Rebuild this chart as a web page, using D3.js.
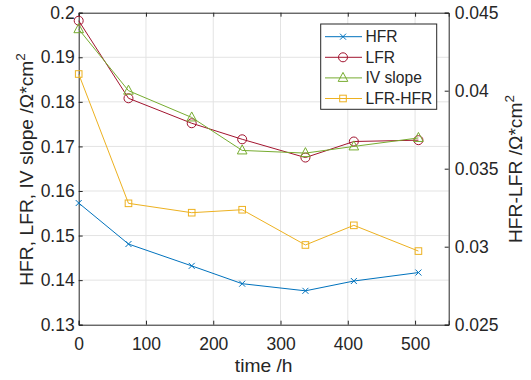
<!DOCTYPE html>
<html>
<head>
<meta charset="utf-8">
<script src="https://cdn.jsdelivr.net/npm/d3@7"></script>
<style>
  body { margin: 0; background: #fff; }
  svg text { font-family: "Liberation Sans", Arial, sans-serif; fill: #262626; }
</style>
</head>
<body>
<div id="chart"></div>
<script>
// time points (h)
const times = [0, 74, 168, 243, 337, 409, 505];
const hfr = [0.1573, 0.1481, 0.1432, 0.1392, 0.1376, 0.1398, 0.1417];
const lfr = [0.1982, 0.1808, 0.1752, 0.1716, 0.1675, 0.1711, 0.1714];
const ivSlope = [0.1963, 0.1825, 0.1765, 0.1691, 0.1685, 0.1700, 0.1719];
const lfrMinusHfr = [0.04107, 0.03278, 0.03218, 0.03237, 0.03011, 0.03137, 0.02972];

const xTicks = [0, 100, 200, 300, 400, 500];
const yLeftTicks = [0.13, 0.14, 0.15, 0.16, 0.17, 0.18, 0.19, 0.2];
const yRightTicks = [0.025, 0.03, 0.035, 0.04, 0.045];

const width = 531, height = 380;
const m = { left: 78.7, right: 531 - 448.7, top: 12.7, bottom: 380 - 324.7 };

const svg = d3.select("#chart").append("svg")
  .attr("width", width).attr("height", height);

const x = d3.scaleLinear().domain([0, 550]).range([m.left, width - m.right]);
const yL = d3.scaleLinear().domain([0.13, 0.2]).range([height - m.bottom, m.top]);
const yR = d3.scaleLinear().domain([0.025, 0.045]).range([height - m.bottom, m.top]);

const grid = svg.append("g");
grid.selectAll(".gx").data(xTicks.slice(1)).enter().append("line")
  .attr("x1", d => x(d)).attr("x2", d => x(d))
  .attr("y1", m.top).attr("y2", height - m.bottom)
  .attr("stroke", "#e3e3e3").attr("stroke-width", 1);
grid.selectAll(".gy").data(yLeftTicks.slice(1, -1)).enter().append("line")
  .attr("x1", m.left).attr("x2", width - m.right)
  .attr("y1", d => yL(d)).attr("y2", d => yL(d))
  .attr("stroke", "#e3e3e3").attr("stroke-width", 1);

// axes
const axColor = "#262626";
const tickFont = 17.5;
const labelFont = tickFont * 1.1;
const xAxis = svg.append("g").attr("transform", `translate(0,${height - m.bottom})`)
  .call(d3.axisBottom(x).tickValues(xTicks).tickSize(-4).tickPadding(13).tickFormat(d3.format("d")));
const xTop = svg.append("g").attr("transform", `translate(0,${m.top})`)
  .call(d3.axisTop(x).tickValues(xTicks).tickSize(-4).tickFormat(""));
const yAxisL = svg.append("g").attr("transform", `translate(${m.left},0)`)
  .call(d3.axisLeft(yL).tickValues(yLeftTicks).tickSize(-4).tickPadding(4).tickFormat(d => String(+d.toFixed(2))));
const yAxisR = svg.append("g").attr("transform", `translate(${width - m.right},0)`)
  .call(d3.axisRight(yR).tickValues(yRightTicks).tickSize(-4).tickPadding(6).tickFormat(d => String(+d.toFixed(3))));

[xAxis, xTop, yAxisL, yAxisR].forEach(g => {
  g.select(".domain").attr("stroke", axColor).attr("stroke-width", 1);
  g.selectAll(".tick line").attr("stroke", axColor);
  g.selectAll(".tick text").attr("font-size", tickFont).attr("fill", axColor)
    .style("font-family", "'Liberation Sans', Arial, sans-serif");
});

// series
const series = [
  { name: "HFR", values: hfr, scale: yL, color: "#0072BD", marker: "x" },
  { name: "LFR", values: lfr, scale: yL, color: "#A2142F", marker: "o" },
  { name: "IV slope", values: ivSlope, scale: yL, color: "#77AC30", marker: "^" },
  { name: "LFR-HFR", values: lfrMinusHfr, scale: yR, color: "#EDB120", marker: "s" }
];

function drawMarker(g, type, cx, cy, color) {
  if (type === "x") {
    g.append("path").attr("d", `M${cx-3},${cy-3}L${cx+3},${cy+3}M${cx-3},${cy+3}L${cx+3},${cy-3}`)
      .attr("stroke", color).attr("fill", "none").attr("stroke-width", 1);
  } else if (type === "o") {
    g.append("circle").attr("cx", cx).attr("cy", cy).attr("r", 4.5)
      .attr("stroke", color).attr("fill", "none").attr("stroke-width", 1);
  } else if (type === "^") {
    g.append("path").attr("d", `M${cx},${cy-5.5}L${cx+4.8},${cy+3.5}L${cx-4.8},${cy+3.5}Z`)
      .attr("stroke", color).attr("fill", "none").attr("stroke-width", 1);
  } else {
    g.append("rect").attr("x", cx - 3.3).attr("y", cy - 3.3).attr("width", 6.6).attr("height", 6.6)
      .attr("stroke", color).attr("fill", "none").attr("stroke-width", 1);
  }
}

series.forEach(s => {
  const line = d3.line().x((d, i) => x(times[i])).y(d => s.scale(d));
  const g = svg.append("g");
  g.append("path").datum(s.values).attr("d", line)
    .attr("fill", "none").attr("stroke", s.color).attr("stroke-width", 1);
  s.values.forEach((v, i) => drawMarker(g, s.marker, x(times[i]), s.scale(v), s.color));
});

// legend
const lg = svg.append("g");
lg.append("rect").attr("x", 320.7).attr("y", 24).attr("width", 116).attr("height", 85.3)
  .attr("fill", "#fff").attr("stroke", axColor).attr("stroke-width", 1);
series.forEach((s, i) => {
  const ly = 36.7 + i * 20.6;
  lg.append("line").attr("x1", 325).attr("x2", 362).attr("y1", ly).attr("y2", ly)
    .attr("stroke", s.color).attr("stroke-width", 1);
  drawMarker(lg, s.marker, 343, ly, s.color);
  lg.append("text").attr("x", 365.5).attr("y", ly + 5.5).attr("font-size", 15.6).text(s.name);
});

// axis labels
svg.append("text").attr("x", (m.left + width - m.right) / 2).attr("y", 372)
  .attr("text-anchor", "middle").attr("font-size", labelFont).text("time /h");

const leftLabel = svg.append("text")
  .attr("transform", `translate(33,169.5) rotate(-90)`)
  .attr("text-anchor", "middle").attr("font-size", labelFont);
leftLabel.append("tspan").text("HFR, LFR, IV slope /Ω*cm");
leftLabel.append("tspan").attr("font-size", 13.5).attr("dy", -8.5).text("2");

const rightLabel = svg.append("text")
  .attr("transform", `translate(522,169) rotate(-90)`)
  .attr("text-anchor", "middle").attr("font-size", labelFont);
rightLabel.append("tspan").text("HFR-LFR /Ω*cm");
rightLabel.append("tspan").attr("font-size", 13.5).attr("dy", -8.5).text("2");
</script>
</body>
</html>
